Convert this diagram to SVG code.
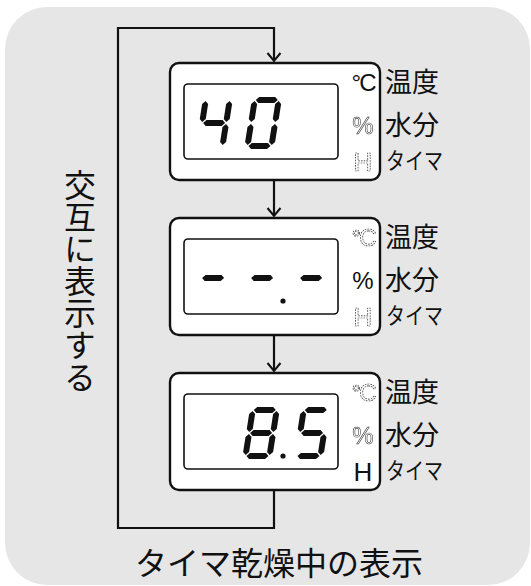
<svg xmlns="http://www.w3.org/2000/svg" xmlns:xlink="http://www.w3.org/1999/xlink" width="531" height="586" viewBox="0 0 531 586">
<style>
.bg{fill:#e6e6e6}
.box{fill:#fff;stroke:#111;stroke-width:2.4}
.lcd{fill:#fff;stroke:#111;stroke-width:1.6}
.seg{fill:#111}
.ind{font-family:"Liberation Sans",Arial,sans-serif;font-size:24px;text-anchor:middle;fill:#111}
.indH{font-size:26px}
.off{fill:none;stroke:#222;stroke-width:0.7;stroke-dasharray:1.6 1.1}
.offp{fill:none;stroke:#333;stroke-width:0.55}
.gray{filter:url(#desat)}
.lab{font-family:"Noto Sans CJK JP","Noto Sans CJK SC",sans-serif;font-size:27px;fill:#111}
.labs{font-size:23px}
.conn{fill:none;stroke:#111;stroke-width:2.2}
.big{font-family:"Noto Sans CJK JP","Noto Sans CJK SC",sans-serif;font-size:32px;fill:#111}
</style>
<defs>
<filter id="desat" x="-20%" y="-20%" width="140%" height="140%"><feColorMatrix type="saturate" values="0"/></filter>
<polygon id="sh" points="-11,0 -8,-3 8,-3 11,0 8,3 -8,3"/>
<polygon id="sv" points="0,-10.5 3,-7.5 3,7.5 0,10.5 -3,7.5 -3,-7.5"/>
<marker id="ah" viewBox="-1 -8 11 16" refX="8" refY="0" markerWidth="11" markerHeight="16" markerUnits="userSpaceOnUse" orient="auto">
<path d="M0,-6.5 L8,0 L0,6.5" fill="none" stroke="#111" stroke-width="2"/>
</marker>
</defs>
<rect class="bg" x="5" y="7" width="525" height="578" rx="42"/>

<g id="connectors">
<path class="conn" d="M274,490 V528 H118 V28 H274 V61" marker-end="url(#ah)"/>
<path class="conn" d="M274,180 V216" marker-end="url(#ah)"/>
<path class="conn" d="M274,335 V371" marker-end="url(#ah)"/>
</g>

<g id="box1" transform="translate(170,63)">
<rect class="box" x="0" y="0" width="210" height="117" rx="9"/>
<rect class="lcd" x="14" y="21" width="154" height="75" rx="4"/>
<g class="seg" transform="translate(25,86) skewX(-9)">
<use xlink:href="#sv" x="3" y="-37.5"/>
<use xlink:href="#sh" x="15" y="-26"/>
<use xlink:href="#sv" x="27" y="-37.5"/>
<use xlink:href="#sv" x="27" y="-14.5"/>
</g>
<g class="seg" transform="translate(74,86) skewX(-9)">
<use xlink:href="#sh" x="15" y="-49"/>
<use xlink:href="#sv" x="27" y="-37.5"/>
<use xlink:href="#sv" x="27" y="-14.5"/>
<use xlink:href="#sh" x="15" y="-3"/>
<use xlink:href="#sv" x="3" y="-14.5"/>
<use xlink:href="#sv" x="3" y="-37.5"/>
</g>
<text class="ind" x="193" y="28" letter-spacing="-2">°C</text>
<g class="gray">
<text class="ind offp" x="193" y="71">%</text>
<text class="ind indH off" x="193" y="108">H</text>
</g>
<text class="lab" x="215" y="29">温度</text>
<text class="lab" x="215" y="72">水分</text>
<text class="lab labs" x="216" y="106" textLength="57" lengthAdjust="spacingAndGlyphs">タイマ</text>
</g>

<g id="box2" transform="translate(170,218)">
<rect class="box" x="0" y="0" width="210" height="117" rx="9"/>
<rect class="lcd" x="14" y="21" width="154" height="75" rx="4"/>
<g class="seg" transform="translate(24,86) skewX(-9)"><use xlink:href="#sh" x="15" y="-26"/></g>
<g class="seg" transform="translate(73,86) skewX(-9)"><use xlink:href="#sh" x="15" y="-26"/></g>
<g class="seg" transform="translate(122,86) skewX(-9)"><use xlink:href="#sh" x="15" y="-26"/></g>
<circle class="seg" cx="113" cy="83" r="2.6"/>
<g class="gray">
<text class="ind off" x="193" y="28" letter-spacing="-2">°C</text>
</g>
<text class="ind" x="193" y="71">%</text>
<g class="gray">
<text class="ind indH off" x="193" y="108">H</text>
</g>
<text class="lab" x="215" y="29">温度</text>
<text class="lab" x="215" y="72">水分</text>
<text class="lab labs" x="216" y="106" textLength="57" lengthAdjust="spacingAndGlyphs">タイマ</text>
</g>

<g id="box3" transform="translate(170,373)">
<rect class="box" x="0" y="0" width="210" height="117" rx="9"/>
<rect class="lcd" x="14" y="21" width="154" height="75" rx="4"/>
<g class="seg" transform="translate(72,86) skewX(-9)">
<use xlink:href="#sh" x="15" y="-49"/>
<use xlink:href="#sv" x="27" y="-37.5"/>
<use xlink:href="#sv" x="27" y="-14.5"/>
<use xlink:href="#sh" x="15" y="-3"/>
<use xlink:href="#sv" x="3" y="-14.5"/>
<use xlink:href="#sv" x="3" y="-37.5"/>
<use xlink:href="#sh" x="15" y="-26"/>
</g>
<g class="seg" transform="translate(123,86) skewX(-9)">
<use xlink:href="#sh" x="15" y="-49"/>
<use xlink:href="#sv" x="3" y="-37.5"/>
<use xlink:href="#sh" x="15" y="-26"/>
<use xlink:href="#sv" x="27" y="-14.5"/>
<use xlink:href="#sh" x="15" y="-3"/>
</g>
<circle class="seg" cx="113" cy="83" r="2.6"/>
<g class="gray">
<text class="ind off" x="193" y="28" letter-spacing="-2">°C</text>
<text class="ind offp" x="193" y="71">%</text>
</g>
<text class="ind indH" x="193" y="108">H</text>
<text class="lab" x="215" y="29">温度</text>
<text class="lab" x="215" y="72">水分</text>
<text class="lab labs" x="216" y="106" textLength="57" lengthAdjust="spacingAndGlyphs">タイマ</text>
</g>

<g id="side-label">
<text class="big" x="80" y="169" style="writing-mode:vertical-rl">交互に表示する</text>
</g>
<g id="caption">
<text class="big" x="279" y="575" text-anchor="middle">タイマ乾燥中の表示</text>
</g>
</svg>
